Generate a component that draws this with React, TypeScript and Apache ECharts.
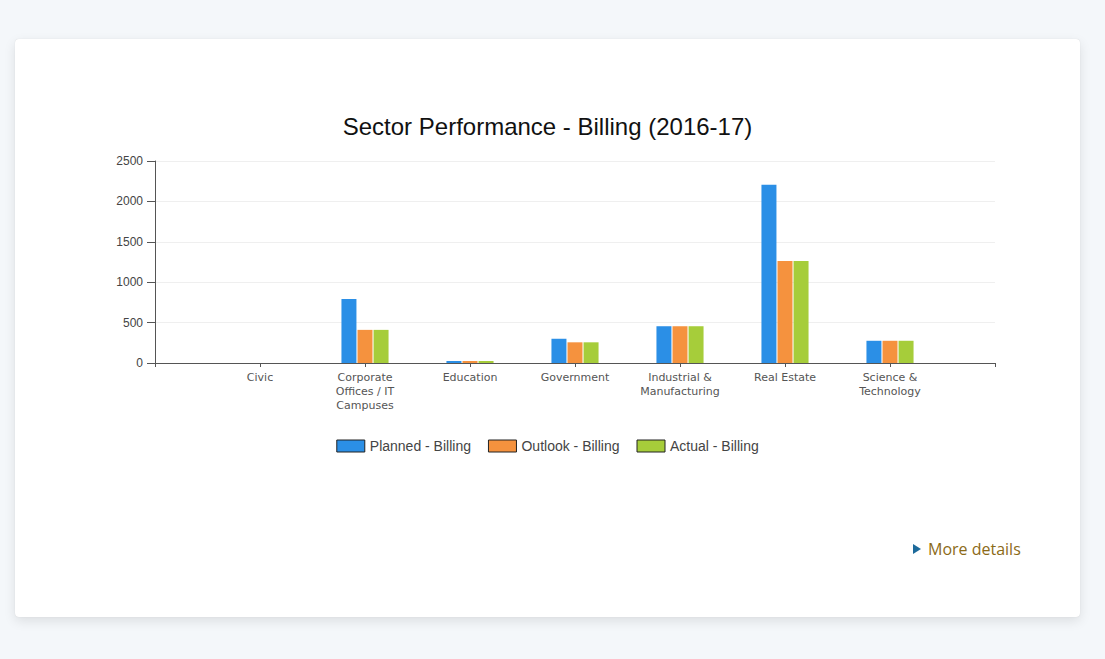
import React, { useEffect, useRef } from "react";
import * as echarts from "echarts";

const titleText = "Sector Performance - Billing (2016-17)";
const categories = [
  "",
  "Civic",
  "Corporate\nOffices / IT\nCampuses",
  "Education",
  "Government",
  "Industrial &\nManufacturing",
  "Real Estate",
  "Science &\nTechnology",
  "",
];
const planned = [null, 0, 792, 25, 300, 455, 2205, 275, null];
const outlook = [null, 0, 410, 25, 256, 455, 1262, 275, null];
const actual = [null, 0, 410, 25, 256, 455, 1262, 275, null];
const seriesNames = ["Planned - Billing", "Outlook - Billing", "Actual - Billing"];
const colors = ["#2b8fe6", "#f5923e", "#a6cd3a"];
const yTicks = { min: 0, max: 2500, interval: 500 };

export default function App() {
  const ref = useRef<HTMLDivElement>(null);
  useEffect(() => {
    if (!ref.current) return;
    const chart = echarts.init(ref.current, undefined, { renderer: "svg" });
    const data = [planned, outlook, actual];
    chart.setOption({
      animation: false,
      title: {
        text: titleText,
        left: "center",
        top: 70,
        textStyle: {
          fontFamily: "Liberation Sans, Arial, sans-serif",
          fontSize: 24,
          fontWeight: "normal",
          color: "#111",
        },
      },
      legend: {
        top: 395,
        left: "center",
        itemWidth: 28,
        itemHeight: 12,
        itemGap: 17,
        icon: "rect",
        itemStyle: { borderColor: "#222", borderWidth: 1 },
        textStyle: {
          fontFamily: "Liberation Sans, Arial, sans-serif",
          fontSize: 14,
          color: "#444",
        },
        data: seriesNames,
      },
      grid: { left: 140, top: 122, width: 840, height: 202, containLabel: false },
      xAxis: {
        type: "category",
        data: categories,
        boundaryGap: false,
        axisLine: { lineStyle: { color: "#555", width: 1 } },
        axisTick: { show: true, length: 4, lineStyle: { color: "#555" } },
        axisLabel: {
          interval: 0,
          margin: 7,
          fontFamily: "DejaVu Sans, Verdana, sans-serif",
          fontSize: 11,
          lineHeight: 14,
          color: "#555",
        },
        splitLine: { show: false },
      },
      yAxis: {
        type: "value",
        min: yTicks.min,
        max: yTicks.max,
        interval: yTicks.interval,
        axisLine: { show: true, lineStyle: { color: "#555", width: 1 } },
        axisTick: { show: true, length: 8, lineStyle: { color: "#555" } },
        axisLabel: {
          margin: 12,
          formatter: (v: number) => String(v),
          fontFamily: "Liberation Sans, Arial, sans-serif",
          fontSize: 12,
          color: "#444",
        },
        splitLine: { show: true, lineStyle: { color: "#efefef" } },
      },
      series: seriesNames.map((name, i) => ({
        name,
        type: "bar",
        data: data[i],
        barWidth: 15,
        barGap: "7%",
        itemStyle: { color: colors[i] },
      })),
    });
    return () => chart.dispose();
  }, []);

  return (
    <div
      style={{
        position: "fixed",
        inset: 0,
        background: "#f4f7fa",
        overflow: "hidden",
      }}
    >
      <div
        style={{
          position: "absolute",
          left: 15,
          top: 39,
          width: 1065,
          height: 578,
          background: "#fff",
          borderRadius: 4,
          boxShadow: "0 4px 12px rgba(0,0,0,0.10), 0 0 1px rgba(0,0,0,0.15)",
        }}
      >
        <div ref={ref} style={{ position: "absolute", left: 0, top: 0, width: 1065, height: 578 }} />
        <div
          style={{
            position: "absolute",
            left: 898,
            top: 499,
            display: "flex",
            alignItems: "center",
            fontFamily: "Open Sans, sans-serif",
            fontSize: 16,
            color: "#8b6a17",
          }}
        >
          <span
            style={{
              display: "inline-block",
              width: 0,
              height: 0,
              borderTop: "5px solid transparent",
              borderBottom: "5px solid transparent",
              borderLeft: "8px solid #1d6a9b",
              marginRight: 7,
            }}
          />
          <span>More details</span>
        </div>
      </div>
    </div>
  );
}
